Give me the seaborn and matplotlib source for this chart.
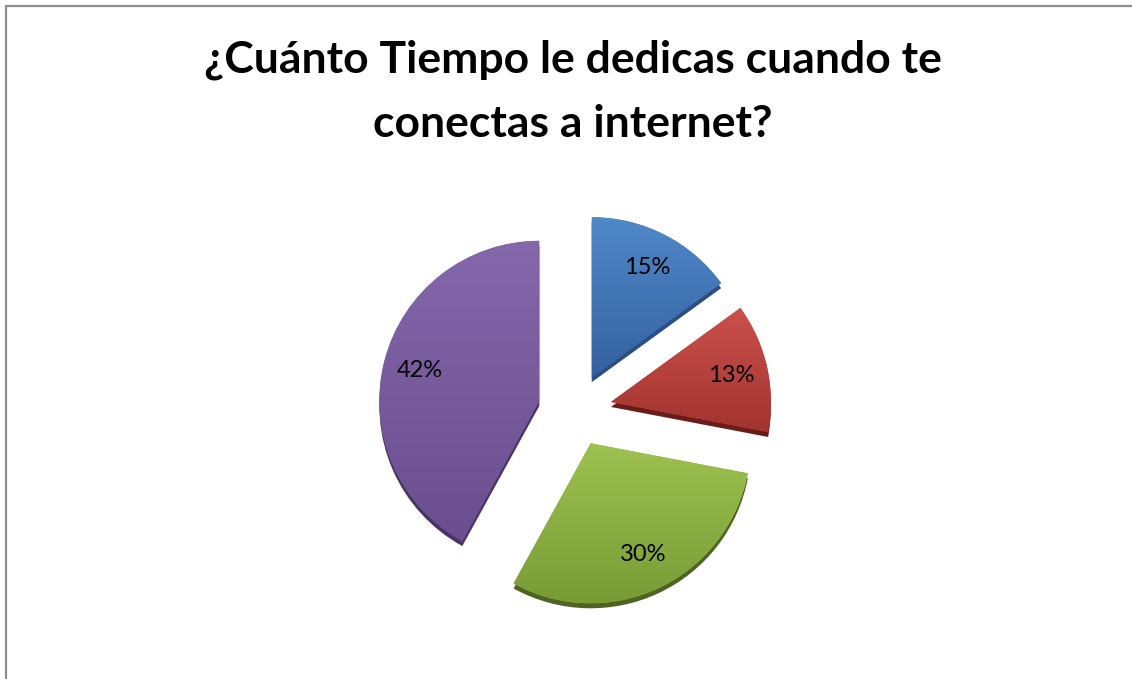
import numpy as np
import matplotlib
matplotlib.use("Agg")
import matplotlib.pyplot as plt
from matplotlib.lines import Line2D
from matplotlib.colors import LinearSegmentedColormap
import seaborn as sns

# Survey data: time spent when connecting to the internet
categories = ["Menos de 1 hora", "1 a 2 horas", "2 a 3 horas", "Más de 3 horas"]
shares = [15, 13, 30, 42]
title_lines = ["¿Cuánto Tiempo le dedicas cuando te", "conectas a internet?"]

# Office-style colours: light (top) / dark (bottom) / side edge
top_colors = ["#5088c8", "#cb514c", "#9dc250", "#8567ab"]
bottom_colors = ["#3461a0", "#a2332f", "#799b36", "#6a4e8e"]
edge_colors = ["#2b4f85", "#6a1c1a", "#4d6423", "#4a3466"]

sns.set_theme(style="white")
plt.rcParams["font.family"] = ["Lato", "DejaVu Sans"]

W, H = 1132, 679
fig = plt.figure(figsize=(W / 100, H / 100), dpi=100)
ax = fig.add_axes([0, 0, 1, 1])

R = 160.0          # pie radius in pixels
cx, cy = 575, 410  # pie centre (pixels from top-left)
explode = [0.23] * len(shares)
depth = 5.0 / R    # visible thickness of the slices

# Side / thickness of each slice, drawn below and slightly lower
side, _ = ax.pie(shares, explode=explode, startangle=90, counterclock=False,
                 colors=edge_colors, center=(0, -depth),
                 wedgeprops=dict(linewidth=0))
for w in side:
    w.set_zorder(1)

wedges, _, autotexts = ax.pie(
    shares, explode=explode, startangle=90, counterclock=False,
    colors=top_colors, autopct="%1.0f%%", pctdistance=0.77,
    wedgeprops=dict(linewidth=0),
    textprops=dict(fontsize=17, color="black"))

# Vertical gradient fill clipped to each slice
for w, c0, c1 in zip(wedges, top_colors, bottom_colors):
    w.set_zorder(2)
    cmap = LinearSegmentedColormap.from_list("g", [c0, c1])
    bb = w.get_path().get_extents(w.get_transform() - ax.transData)
    grad = np.linspace(0, 1, 256).reshape(-1, 1)
    im = ax.imshow(grad, cmap=cmap, aspect="auto", origin="upper",
                   extent=(bb.x0, bb.x1, bb.y0, bb.y1), zorder=3,
                   interpolation="bilinear")
    im.set_clip_path(w)
for t in autotexts:
    t.set_zorder(5)

ax.set_xlim(-cx / R, (W - cx) / R)
ax.set_ylim(-(H - cy) / R, cy / R)
ax.set_aspect("auto")
ax.axis("off")

# Two-line bold title, each line placed on its own baseline
for line, base in zip(title_lines, [73, 137]):
    fig.text(573 / W, 1 - base / H, line, ha="center", va="baseline",
             fontsize=32, fontweight="bold", color="black")

# Chart-area border (top and left edges visible)
border = dict(color="#8c8c8c", linewidth=1.6)
fig.add_artist(Line2D([6 / W, 1.01], [1 - 6 / H, 1 - 6 / H],
                      transform=fig.transFigure, **border))
fig.add_artist(Line2D([6 / W, 6 / W], [1 - 6 / H, -0.01],
                      transform=fig.transFigure, **border))

fig.savefig("out.png", dpi=100, facecolor="white")
